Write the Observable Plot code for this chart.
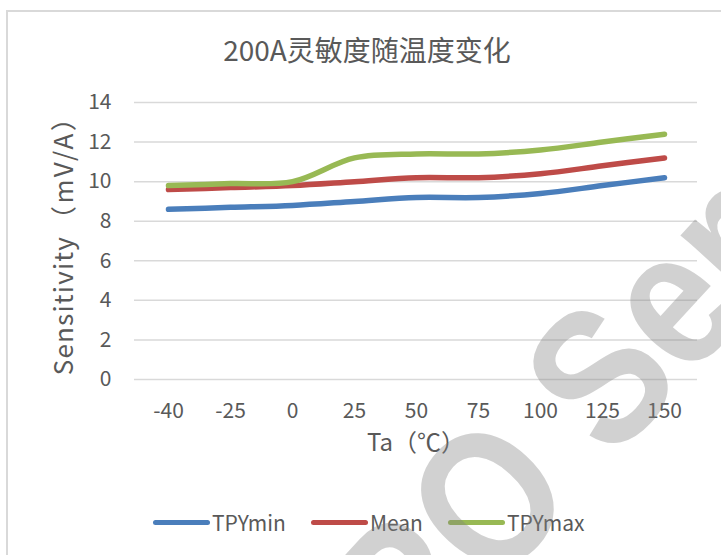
<!DOCTYPE html>
<html>
<head>
<meta charset="utf-8">
<script src="https://cdn.jsdelivr.net/npm/d3@7"></script>
<script src="https://cdn.jsdelivr.net/npm/@observablehq/plot@0.6"></script>
<style>
  html, body { margin: 0; padding: 0; background: #fff; }
  body { width: 721px; height: 555px; position: relative; overflow: hidden; font-family: "Noto Sans CJK SC", "Noto Sans", sans-serif; }
  #frame { position: absolute; left: 6px; top: 10px; width: 900px; height: 800px; border: 2px solid #d9d9d9; box-sizing: border-box; }
  #title { position: absolute; left: 367px; top: 35px; transform: translateX(-50%); font-size: 28px; line-height: 1; color: #595959; white-space: nowrap; }
  #chart { position: absolute; left: 0; top: 0; }
  #legend { position: absolute; left: 153px; top: 507px; display: flex; align-items: center; gap: 25px; font-size: 21px; line-height: 30px; color: #595959; white-space: nowrap; }
  .item { display: flex; align-items: center; gap: 2px; }
  .sw { display: inline-block; width: 57px; height: 5px; border-radius: 3px; }
  #wm { position: absolute; left: 0; top: 0; pointer-events: none; }
</style>
</head>
<body>
<div id="frame"></div>
<div id="title"></div>
<div id="chart"></div>
<div id="legend"></div>
<svg id="wm" width="721" height="555"></svg>
<script>
const titleText = "200A灵敏度随温度变化";
const xLabel = "Ta（℃）";
const yLabelMain = "Sensitivity";
const yLabelUnit = "（mV/A）";
const temps = ["-40", "-25", "0", "25", "50", "75", "100", "125", "150"];
const tpyMin = [8.6, 8.7, 8.8, 9.0, 9.2, 9.2, 9.4, 9.8, 10.2];
const mean   = [9.6, 9.7, 9.8, 10.0, 10.2, 10.2, 10.4, 10.8, 11.2];
const tpyMax = [9.8, 9.9, 10.0, 11.2, 11.4, 11.4, 11.6, 12.0, 12.4];
const seriesNames = ["TPYmin", "Mean", "TPYmax"];
const seriesColors = ["#4A7EBB", "#BE4B48", "#98B954"];
const yTicks = [0, 2, 4, 6, 8, 10, 12, 14];
const watermark = "CRO Semi";

const yLabel = yLabelMain + yLabelUnit;
const seriesValues = [tpyMin, mean, tpyMax];
const rows = [];
seriesNames.forEach((name, i) => {
  temps.forEach((t, j) => rows.push({series: name, temp: t, value: seriesValues[i][j]}));
});

document.getElementById("title").textContent = titleText;

const plot = Plot.plot({
  width: 721,
  height: 480,
  marginTop: 102,
  marginBottom: 101,
  marginLeft: 134,
  marginRight: 24,
  style: {fontFamily: '"Noto Sans CJK SC", "Noto Sans", sans-serif', fontSize: "21px", color: "#595959", background: "transparent", overflow: "visible"},
  x: {type: "point", domain: temps, padding: 0.5},
  y: {domain: [0, 14]},
  color: {domain: seriesNames, range: seriesColors},
  marks: [
    Plot.ruleY(yTicks, {stroke: "#d9d9d9", strokeWidth: 1.5}),
    Plot.axisX({tickSize: 0, tickPadding: 24, label: null, fontSize: 21}),
    Plot.axisY(yTicks, {tickSize: 0, tickPadding: 23, label: null, fontSize: 21}),
    Plot.line(rows, {x: "temp", y: "value", z: "series", stroke: "series", strokeWidth: 5.5, curve: "catmull-rom", strokeLinecap: "round", strokeLinejoin: "round"}),
    Plot.text([yLabel], {frameAnchor: "left", textAnchor: "middle", dx: -70, dy: -2, rotate: -90, fontSize: 26, fill: "#595959"}),
    Plot.text([xLabel], {frameAnchor: "bottom", dy: 71, fontSize: 24, fill: "#595959"})
  ]
});
document.getElementById("chart").appendChild(plot);

// split the y label into spaced parts, as in the reference
d3.select(plot).selectAll("text").filter(function() { return this.textContent === yLabel; })
  .each(function() {
    const t = d3.select(this);
    t.text(null);
    t.append("tspan").attr("letter-spacing", "1.2px").text(yLabelMain);
    t.append("tspan").attr("dx", 4).attr("letter-spacing", "2.5px").text(yLabelUnit);
  });

const legend = document.getElementById("legend");
seriesNames.forEach((name, i) => {
  const item = document.createElement("div");
  item.className = "item";
  const sw = document.createElement("span");
  sw.className = "sw";
  sw.style.background = seriesColors[i];
  const lab = document.createElement("span");
  lab.textContent = name;
  item.appendChild(sw);
  item.appendChild(lab);
  legend.appendChild(item);
});

// watermark overlay
const wm = d3.select("#wm");
wm.append("text")
  .attr("transform", "translate(332 768) rotate(-47.5) scale(0.85 1)")
  .attr("font-family", '"Liberation Sans", Arial, sans-serif')
  .attr("font-weight", "bold")
  .attr("font-size", 195)
  .attr("fill", "rgba(128,128,128,0.36)")
  .text(watermark);
</script>
</body>
</html>
